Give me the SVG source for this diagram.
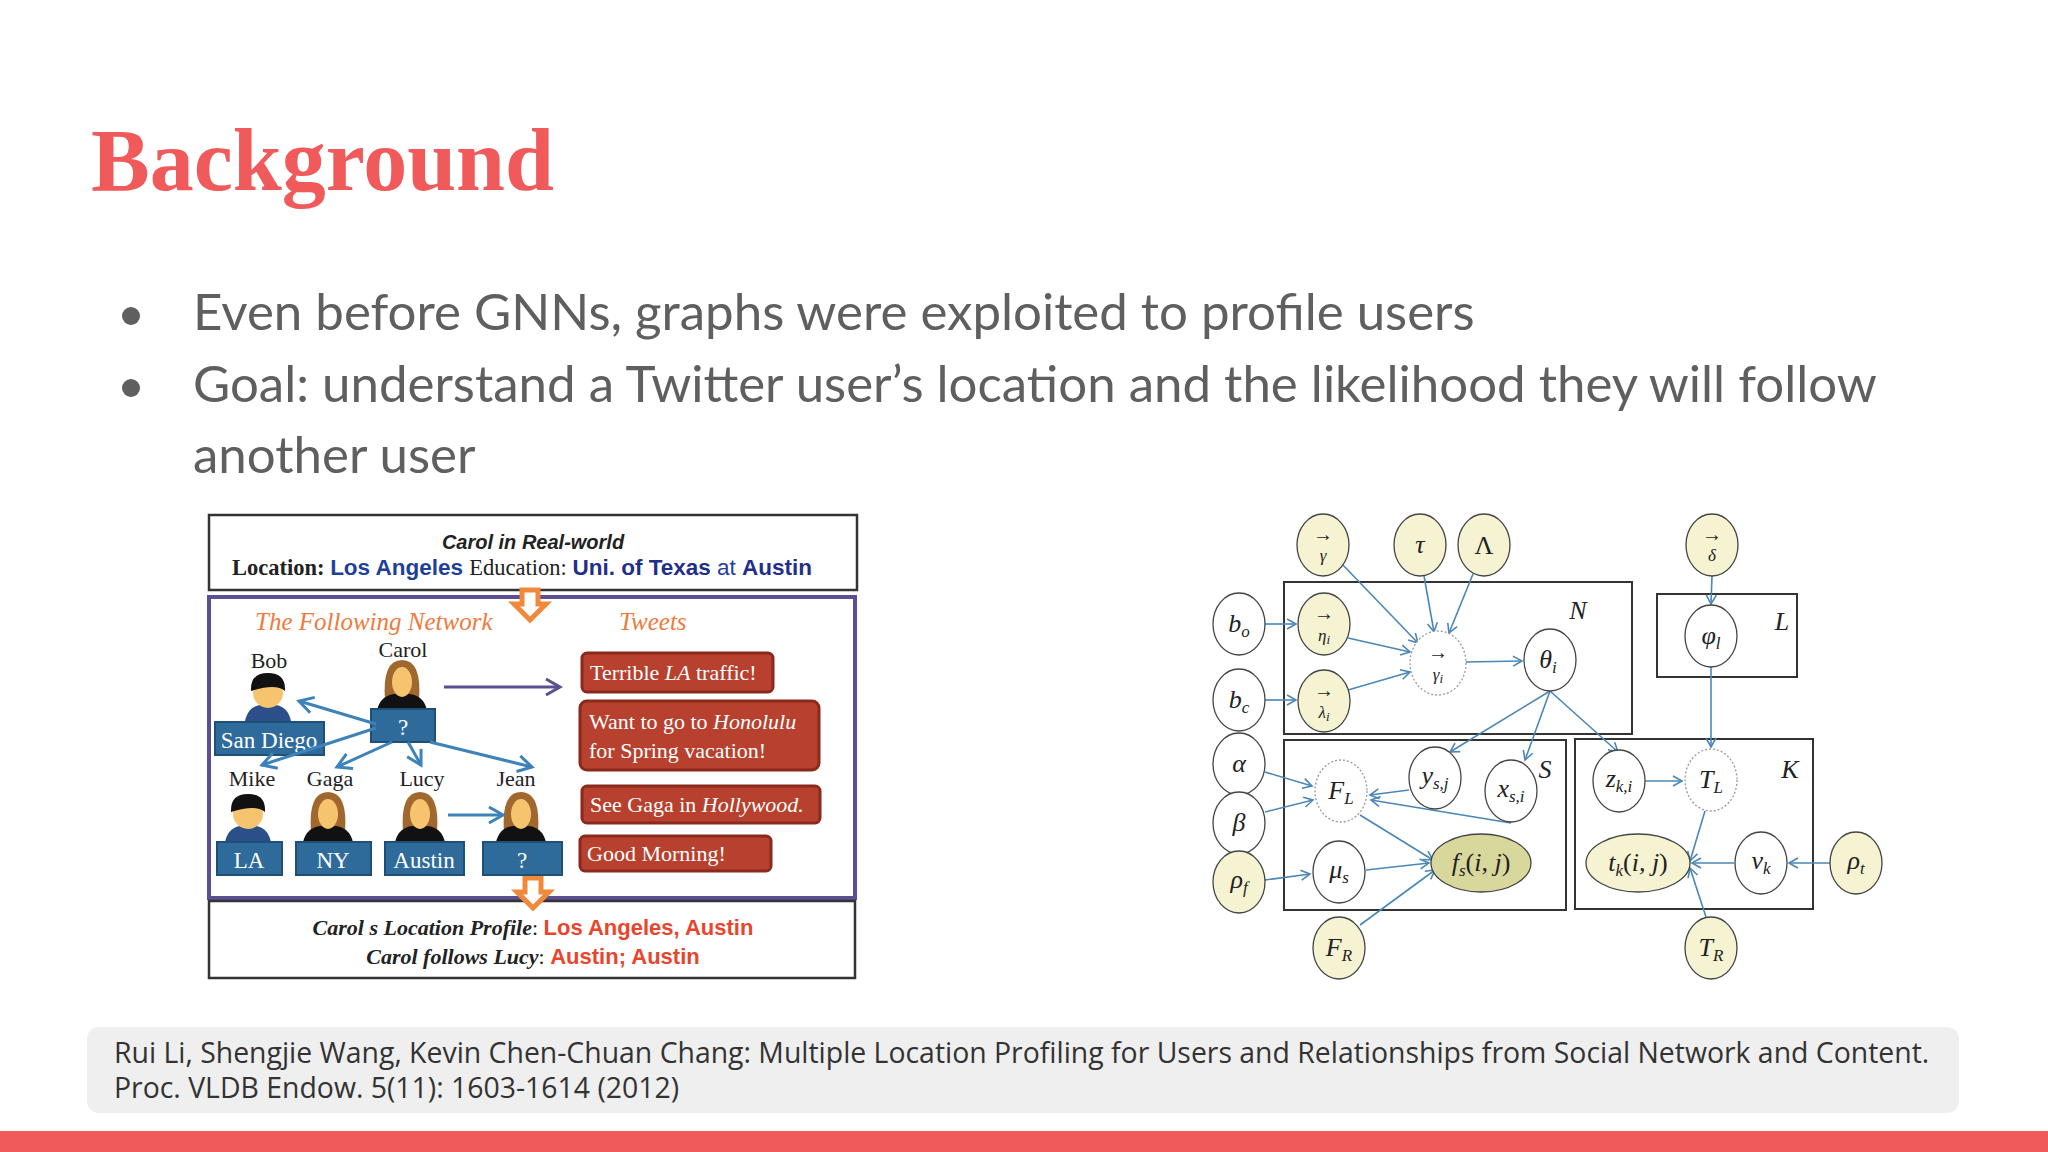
<svg xmlns="http://www.w3.org/2000/svg" xmlns:xlink="http://www.w3.org/1999/xlink" width="2048" height="1152" viewBox="0 0 2048 1152">
<style>
.bul{font-family:Lato,"Open Sans",sans-serif;font-size:51px;fill:#5f5f5f}
.ref{font-family:"Open Sans",Lato,sans-serif;font-size:28.4px;fill:#333}
.ser{font-family:"Liberation Serif",serif}
.sans{font-family:"Liberation Sans",sans-serif}
.tw{font-family:"Liberation Serif",serif;font-size:22px;fill:#fff}
.tbox{fill:#b7412e;stroke:#8a2a1c;stroke-width:3}
.lbox{fill:#2f6b9a;stroke:#1e4f78;stroke-width:2}
.lt{font-family:"Liberation Serif",serif;font-size:23px;fill:#fff;text-anchor:middle}
.nm{font-family:"Liberation Serif",serif;font-size:22px;fill:#222;text-anchor:middle}
.ba{stroke:#3d82b8;stroke-width:3;fill:none;marker-end:url(#oa)}
.e{stroke:#444;stroke-width:1.3}
.w{fill:#fff}
.y{fill:#f6f3d2}
.d{stroke-dasharray:2 2;stroke:#999}
.g{font-family:"Liberation Serif",serif;font-style:italic;font-size:26px;fill:#222;text-anchor:middle}
.up{font-style:normal}
.s{font-size:17px}
.ar{font-family:"Liberation Serif",serif;font-size:20px;fill:#222;text-anchor:middle}
.pl{fill:none;stroke:#333;stroke-width:2}
.ed line{stroke:#4a87b8;stroke-width:1.6;fill:none;marker-end:url(#bm)}
</style>
<defs>
<marker id="bm" markerWidth="12" markerHeight="12" refX="10" refY="6" orient="auto" markerUnits="userSpaceOnUse"><path d="M1,1 L10,6 L1,11" fill="none" stroke="#4a87b8" stroke-width="1.6"/></marker>
<marker id="oa" markerWidth="20" markerHeight="20" refX="16" refY="10" orient="auto" markerUnits="userSpaceOnUse"><path d="M2,2 L16,10 L2,18" fill="none" stroke="#3d82b8" stroke-width="3"/></marker>
<marker id="pa" markerWidth="20" markerHeight="20" refX="16" refY="10" orient="auto" markerUnits="userSpaceOnUse"><path d="M2,2 L16,10 L2,18" fill="none" stroke="#5a4f8f" stroke-width="3"/></marker>
<g id="fem"><path d="M-17,14 Q-20,-26 0,-26 Q20,-26 17,14 Z" fill="#a0672e"/><path d="M-26,30 Q-24,10 -8,8 L8,8 Q24,10 26,30 Z" fill="#111"/><ellipse cx="0" cy="-4" rx="10" ry="15" fill="#f6c46f"/></g>
<g id="mal"><path d="M-24,30 Q-22,10 -8,8 L8,8 Q22,10 24,30 Z" fill="#2c4f8a"/><ellipse cx="0" cy="-4" rx="15" ry="15" fill="#f6c46f"/><path d="M-17,-6 Q-18,-24 0,-24 Q18,-24 17,-6 Q8,-14 -17,-6 Z" fill="#111"/></g>
<path id="oarr" d="M-8,0 H8 V14 H16 L0,30 L-16,14 H-8 Z" fill="#fff" stroke="#f08a3a" stroke-width="5"/>
</defs>
<rect width="2048" height="1152" fill="#fff"/>
<text x="91" y="190" font-family="'Liberation Serif',serif" font-weight="bold" font-size="88" fill="#f05a5a">Background</text>
<g id="bullets">
<circle cx="131" cy="316" r="9" fill="#5f5f5f"/><circle cx="131" cy="388" r="9" fill="#5f5f5f"/>
<text class="bul" x="193" y="330">Even before GNNs, graphs were exploited to profile users</text>
<text class="bul" x="193" y="402">Goal: understand a Twitter user’s location and the likelihood they will follow</text>
<text class="bul" x="193" y="473">another user</text>
</g>

<g id="leftfig">
<rect x="209" y="515" width="648" height="75" fill="#fff" stroke="#333" stroke-width="2.5"/>
<text class="sans" x="533" y="549" font-size="20" font-style="italic" font-weight="bold" text-anchor="middle" fill="#222">Carol in Real-world</text>
<text x="232" y="575" font-size="22.5"><tspan class="ser" font-weight="bold" fill="#222">Location: </tspan><tspan class="sans" font-weight="bold" fill="#1f3f9a">Los Angeles </tspan><tspan class="ser" fill="#222">Education: </tspan><tspan class="sans" font-weight="bold" fill="#1f2f8a">Uni. of Texas </tspan><tspan class="sans" fill="#1f3f9a">at </tspan><tspan class="sans" font-weight="bold" fill="#1f2f8a">Austin</tspan></text>
<rect x="209" y="597" width="646" height="301" fill="#fff" stroke="#5a4f8f" stroke-width="4"/>
<rect x="209" y="901" width="646" height="77" fill="#fff" stroke="#333" stroke-width="2.5"/>
<text x="533" y="935" font-size="22" text-anchor="middle"><tspan class="ser" font-style="italic" font-weight="bold" fill="#222">Carol s Location Profile</tspan><tspan class="ser" fill="#222">: </tspan><tspan class="sans" font-weight="bold" fill="#e8452c">Los Angeles, Austin</tspan></text>
<text x="533" y="964" font-size="22" text-anchor="middle"><tspan class="ser" font-style="italic" font-weight="bold" fill="#222">Carol follows Lucy</tspan><tspan class="ser" fill="#222">: </tspan><tspan class="sans" font-weight="bold" fill="#e8452c">Austin; Austin</tspan></text>
<use href="#oarr" x="530" y="590"/>
<use href="#oarr" x="533" y="878"/>
<text class="ser" x="255" y="630" font-size="25" font-style="italic" fill="#ef7a3c">The Following Network</text>
<text class="ser" x="619" y="630" font-size="25" font-style="italic" fill="#ef7a3c">Tweets</text>
<text class="nm" x="403" y="657" font-size="20">Carol</text><text class="nm" x="269" y="668">Bob</text>
<text class="nm" x="252" y="786">Mike</text><text class="nm" x="330" y="786">Gaga</text><text class="nm" x="422" y="786">Lucy</text><text class="nm" x="516" y="786">Jean</text>
<use href="#fem" x="402" y="686"/><use href="#mal" x="268" y="697"/>
<use href="#mal" x="248" y="818"/><use href="#fem" x="328" y="818"/><use href="#fem" x="420" y="818"/><use href="#fem" x="521" y="818"/>
<rect class="lbox" x="371" y="709" width="64" height="33"/><text class="lt" x="403" y="735">?</text>
<rect class="lbox" x="215" y="722" width="109" height="33"/><text class="lt" x="269" y="748">San Diego</text>
<rect class="lbox" x="217" y="842" width="65" height="33"/><text class="lt" x="249" y="868">LA</text>
<rect class="lbox" x="296" y="842" width="75" height="33"/><text class="lt" x="333" y="868">NY</text>
<rect class="lbox" x="385" y="842" width="79" height="33"/><text class="lt" x="424" y="868">Austin</text>
<rect class="lbox" x="483" y="842" width="79" height="33"/><text class="lt" x="522" y="868">?</text>
<line x1="444" y1="687" x2="560" y2="687" stroke="#5a4f8f" stroke-width="3" marker-end="url(#pa)"/>
<line class="ba" x1="376" y1="724" x2="299" y2="701"/>
<line class="ba" x1="376" y1="728" x2="262" y2="765"/>
<line class="ba" x1="392" y1="742" x2="337" y2="767"/>
<line class="ba" x1="408" y1="742" x2="421" y2="765"/>
<line class="ba" x1="430" y1="742" x2="532" y2="767"/>
<line class="ba" x1="448" y1="815" x2="503" y2="815"/>
<rect class="tbox" x="582" y="653" width="191" height="39" rx="5"/><text class="tw sans" x="590" y="680" font-size="20">Terrible <tspan font-style="italic">LA</tspan> traffic!</text>
<rect class="tbox" x="580" y="701" width="239" height="69" rx="7"/><text class="tw" x="589" y="729">Want to go to <tspan font-style="italic">Honolulu</tspan></text><text class="tw" x="589" y="758">for Spring vacation!</text>
<rect class="tbox" x="582" y="786" width="238" height="37" rx="5"/><text class="tw" x="590" y="812">See Gaga in <tspan font-style="italic">Hollywood.</tspan></text>
<rect class="tbox" x="580" y="836" width="191" height="35" rx="5"/><text class="tw" x="587" y="861">Good Morning!</text>
</g>

<g id="plates">
<rect class="pl" x="1284" y="582" width="348" height="152"/><text class="g" x="1578" y="619">N</text>
<rect class="pl" x="1657" y="594" width="140" height="83"/><text class="g" x="1782" y="630">L</text>
<rect class="pl" x="1284" y="740" width="282" height="170"/><text class="g" x="1545" y="778">S</text>
<rect class="pl" x="1575" y="739" width="238" height="170"/><text class="g" x="1790" y="778">K</text>
</g>
<g class="ed" id="edges">
<line x1="1341" y1="563" x2="1418" y2="643"/>
<line x1="1424" y1="576" x2="1434" y2="632"/>
<line x1="1473" y1="574" x2="1449" y2="633"/>
<line x1="1265" y1="624" x2="1296" y2="624"/>
<line x1="1265" y1="700" x2="1296" y2="700"/>
<line x1="1348" y1="638" x2="1410" y2="652"/>
<line x1="1348" y1="690" x2="1410" y2="672"/>
<line x1="1465" y1="662" x2="1522" y2="661"/>
<line x1="1550" y1="691" x2="1450" y2="752"/>
<line x1="1550" y1="691" x2="1525" y2="760"/>
<line x1="1550" y1="691" x2="1618" y2="752"/>
<line x1="1712" y1="576" x2="1711" y2="604"/>
<line x1="1711" y1="667" x2="1711" y2="747"/>
<line x1="1265" y1="772" x2="1312" y2="786"/>
<line x1="1265" y1="812" x2="1313" y2="800"/>
<line x1="1409" y1="790" x2="1370" y2="795"/>
<line x1="1511" y1="823" x2="1371" y2="800"/>
<line x1="1265" y1="880" x2="1310" y2="874"/>
<line x1="1360" y1="815" x2="1433" y2="860"/>
<line x1="1366" y1="870" x2="1429" y2="863"/>
<line x1="1360" y1="925" x2="1435" y2="870"/>
<line x1="1645" y1="781" x2="1682" y2="781"/>
<line x1="1705" y1="811" x2="1690" y2="861"/>
<line x1="1734" y1="863" x2="1692" y2="863"/>
<line x1="1830" y1="863" x2="1789" y2="863"/>
<line x1="1706" y1="917" x2="1690" y2="868"/>
</g>
<g id="n_gamma"><ellipse class="e y" cx="1323" cy="545" rx="26" ry="31"/><text class="ar" x="1323" y="541">→</text><text class="g s" x="1323" y="561">γ</text></g>
<g id="n_tau"><ellipse class="e y" cx="1420" cy="545" rx="26" ry="31"/><text class="g" x="1420" y="553">τ</text></g>
<g id="n_Lambda"><ellipse class="e y" cx="1484" cy="545" rx="26" ry="31"/><text class="g up" x="1484" y="554">Λ</text></g>
<g id="n_delta"><ellipse class="e y" cx="1712" cy="545" rx="26" ry="31"/><text class="ar" x="1712" y="541">→</text><text class="g s" x="1712" y="561">δ</text></g>
<g id="n_bo"><ellipse class="e w" cx="1239" cy="624" rx="26" ry="31"/><text class="g" x="1239" y="632">b<tspan class="s" dy="5">o</tspan></text></g>
<g id="n_eta"><ellipse class="e y" cx="1324" cy="624" rx="26" ry="31"/><text class="ar" x="1324" y="620">→</text><text class="g s" x="1324" y="641">η<tspan font-size="13" dy="3">i</tspan></text></g>
<g id="n_gammai"><ellipse class="w d" cx="1438" cy="663" rx="28" ry="32" stroke-width="1.3"/><text class="ar" x="1438" y="659">→</text><text class="g s" x="1438" y="680">γ<tspan font-size="13" dy="3">i</tspan></text></g>
<g id="n_theta"><ellipse class="e w" cx="1550" cy="660" rx="26" ry="31"/><text class="g" x="1548" y="668">θ<tspan class="s" dy="5">i</tspan></text></g>
<g id="n_phi"><ellipse class="e w" cx="1711" cy="636" rx="26" ry="31"/><text class="g" x="1711" y="644">φ<tspan class="s" dy="5">l</tspan></text></g>
<g id="n_bc"><ellipse class="e w" cx="1239" cy="700" rx="26" ry="31"/><text class="g" x="1239" y="708">b<tspan class="s" dy="5">c</tspan></text></g>
<g id="n_lambda"><ellipse class="e y" cx="1324" cy="701" rx="26" ry="31"/><text class="ar" x="1324" y="697">→</text><text class="g s" x="1324" y="718">λ<tspan font-size="13" dy="3">i</tspan></text></g>
<g id="n_alpha"><ellipse class="e w" cx="1239" cy="764" rx="26" ry="31"/><text class="g" x="1239" y="772">α</text></g>
<g id="n_beta"><ellipse class="e w" cx="1239" cy="823" rx="26" ry="31"/><text class="g" x="1239" y="831">β</text></g>
<g id="n_rhof"><ellipse class="e y" cx="1239" cy="882" rx="26" ry="31"/><text class="g" x="1239" y="888">ρ<tspan class="s" dy="5">f</tspan></text></g>
<g id="n_FL"><ellipse class="w d" cx="1341" cy="791" rx="26" ry="31" stroke-width="1.3"/><text class="g" x="1341" y="799">F<tspan class="s" dy="5">L</tspan></text></g>
<g id="n_ysj"><ellipse class="e w" cx="1435" cy="778" rx="26" ry="31"/><text class="g" x="1435" y="784">y<tspan class="s" dy="5">s,j</tspan></text></g>
<g id="n_xsi"><ellipse class="e w" cx="1511" cy="791" rx="26" ry="31"/><text class="g" x="1511" y="797">x<tspan class="s" dy="5">s,i</tspan></text></g>
<g id="n_mus"><ellipse class="e w" cx="1339" cy="872" rx="26" ry="31"/><text class="g" x="1339" y="878">μ<tspan class="s" dy="5">s</tspan></text></g>
<g id="n_fs"><ellipse class="e" fill="#d9d89c" cx="1481" cy="863" rx="50" ry="29"/><text class="g" x="1481" y="871">f<tspan class="s" dy="5">s</tspan><tspan class="up" dy="-5">(</tspan>i, j<tspan class="up">)</tspan></text></g>
<g id="n_FR"><ellipse class="e y" cx="1339" cy="948" rx="26" ry="31"/><text class="g" x="1339" y="956">F<tspan class="s" dy="5">R</tspan></text></g>
<g id="n_zki"><ellipse class="e w" cx="1619" cy="781" rx="26" ry="31"/><text class="g" x="1619" y="787">z<tspan class="s" dy="5">k,i</tspan></text></g>
<g id="n_TL"><ellipse class="w d" cx="1711" cy="780" rx="26" ry="31" stroke-width="1.3"/><text class="g" x="1711" y="788">T<tspan class="s" dy="5">L</tspan></text></g>
<g id="n_tk"><ellipse class="e y" cx="1638" cy="863" rx="52" ry="29"/><text class="g" x="1638" y="871">t<tspan class="s" dy="5">k</tspan><tspan class="up" dy="-5">(</tspan>i, j<tspan class="up">)</tspan></text></g>
<g id="n_nuk"><ellipse class="e w" cx="1761" cy="863" rx="26" ry="31"/><text class="g" x="1761" y="869">ν<tspan class="s" dy="5">k</tspan></text></g>
<g id="n_rhot"><ellipse class="e y" cx="1856" cy="863" rx="26" ry="31"/><text class="g" x="1856" y="869">ρ<tspan class="s" dy="5">t</tspan></text></g>
<g id="n_TR"><ellipse class="e y" cx="1711" cy="948" rx="26" ry="31"/><text class="g" x="1711" y="956">T<tspan class="s" dy="5">R</tspan></text></g>

<g id="citation">
<rect x="87" y="1027" width="1872" height="86" rx="12" fill="#efefef"/>
<text class="ref" x="114" y="1063">Rui Li, Shengjie Wang, Kevin Chen-Chuan Chang: Multiple Location Profiling for Users and Relationships from Social Network and Content.</text>
<text class="ref" x="114" y="1098">Proc. VLDB Endow. 5(11): 1603-1614 (2012)</text>
</g>
<rect x="0" y="1131" width="2048" height="21" fill="#f05a5a"/>
</svg>
